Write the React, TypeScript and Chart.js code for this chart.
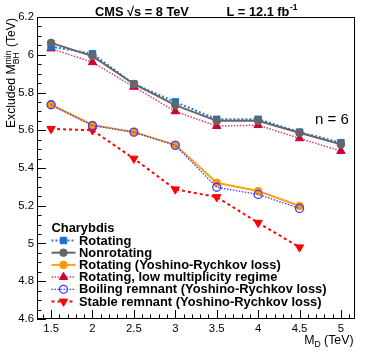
import React, { useEffect, useRef } from "react";
import { Chart, registerables } from "chart.js";
import { drawPoint } from "chart.js/helpers";

Chart.register(...registerables);

// ---- data ----
const MD = [1.5, 2, 2.5, 3, 3.5, 4, 4.5, 5];
const ROTATING = [6.043, 6.005, 5.845, 5.75, 5.658, 5.658, 5.59, 5.534];
const NONROTATING = [6.063, 5.993, 5.845, 5.733, 5.65, 5.65, 5.587, 5.525];
const ROTATING_YR = [5.735, 5.628, 5.59, 5.523, 5.322, 5.278, 5.199];
const LOW_MULT = [6.033, 5.96, 5.83, 5.7, 5.622, 5.627, 5.557, 5.49];
const BOILING_YR = [5.735, 5.625, 5.59, 5.52, 5.298, 5.26, 5.186];
const STABLE_YR = [5.607, 5.6, 5.45, 5.287, 5.246, 5.11, 4.98];

const X_TICKS = [1.5, 2, 2.5, 3, 3.5, 4, 4.5, 5];
const Y_TICKS = [4.6, 4.8, 5, 5.2, 5.4, 5.6, 5.8, 6, 6.2];
const X_MIN = 1.33;
const X_MAX = 5.17;
const Y_MIN = 4.6;
const Y_MAX = 6.2;
const X_MINOR_STEP = 0.1;
const Y_MINOR_STEP = 0.05;

const LEGEND_HEADER = "Charybdis";
const FONT = "'Liberation Sans', Arial, Helvetica, sans-serif";

const pts = (ys: number[]) => ys.map((v, i) => ({ x: MD[i], y: v }));

const decorPlugin = {
  id: "rootDecor",
  afterDraw(chart: any) {
    const { ctx, chartArea, scales } = chart;
    const { left, right, top, bottom } = chartArea;
    const xs = scales.x;
    const ys = scales.y;
    ctx.save();

    // inside ticks
    ctx.strokeStyle = "#000";
    ctx.lineWidth = 1;
    ctx.setLineDash([]);
    ctx.beginPath();
    const nx = Math.round((X_MAX - X_MIN) / X_MINOR_STEP) + 2;
    for (let i = 0; i < nx; i++) {
      const v = Math.ceil(X_MIN / X_MINOR_STEP) * X_MINOR_STEP + i * X_MINOR_STEP;
      if (v > X_MAX) break;
      const isMajor = Math.abs(v / 0.5 - Math.round(v / 0.5)) < 1e-6;
      const px = Math.round(xs.getPixelForValue(v)) + 0.5;
      const len = isMajor ? 9 : 4.5;
      ctx.moveTo(px, bottom);
      ctx.lineTo(px, bottom - len);
    }
    const ny = Math.round((Y_MAX - Y_MIN) / Y_MINOR_STEP);
    for (let i = 0; i <= ny; i++) {
      const v = Y_MIN + i * Y_MINOR_STEP;
      const isMajor = i % 4 === 0;
      const py = Math.round(ys.getPixelForValue(v)) + 0.5;
      const len = isMajor ? 9 : 4.5;
      ctx.moveTo(left, py);
      ctx.lineTo(left + len, py);
    }
    ctx.stroke();

    // frame
    ctx.strokeRect(left + 0.5, top + 0.5, right - left - 1, bottom - top - 1);

    ctx.fillStyle = "#000";
    ctx.textBaseline = "alphabetic";
    ctx.textAlign = "left";

    // title
    ctx.font = `bold 12.8px ${FONT}`;
    ctx.fillText("CMS \u221As = 8 TeV", 95, 15.5);
    ctx.fillText("L = 12.1 fb", 226.5, 15.5);
    const wL = ctx.measureText("L = 12.1 fb").width;
    ctx.font = `bold 8.5px ${FONT}`;
    ctx.fillText("-1", 226.5 + wL + 0.5, 10);

    // n = 6
    ctx.font = `15px ${FONT}`;
    ctx.fillText("n = 6", 315, 124);

    // x title: M_D (TeV), right aligned
    {
      ctx.font = `12.3px ${FONT}`;
      const wM = ctx.measureText("M").width;
      const wT = ctx.measureText(" (TeV)").width;
      ctx.font = `8.6px ${FONT}`;
      const wD = ctx.measureText("D").width;
      const total = wM + wD + wT;
      const x0 = 353.5 - total;
      const base = 344;
      ctx.font = `12.3px ${FONT}`;
      ctx.fillText("M", x0, base);
      ctx.font = `8.6px ${FONT}`;
      ctx.fillText("D", x0 + wM, base + 3);
      ctx.font = `12.3px ${FONT}`;
      ctx.fillText(" (TeV)", x0 + wM + wD, base);
    }

    // y title: Excluded M^min_BH (TeV), rotated, aligned to top
    {
      ctx.save();
      ctx.translate(15, 18);
      ctx.rotate(-Math.PI / 2);
      ctx.font = `12.2px ${FONT}`;
      const w1 = ctx.measureText("Excluded M").width;
      const w3 = ctx.measureText(" (TeV)").width;
      ctx.font = `8.6px ${FONT}`;
      const wSub = ctx.measureText("BH").width;
      const wSup = ctx.measureText("min").width;
      const w2 = Math.max(wSub, wSup);
      const total = w1 + w2 + w3;
      const x0 = -total;
      ctx.font = `12.2px ${FONT}`;
      ctx.fillText("Excluded M", x0, 0);
      ctx.font = `8.6px ${FONT}`;
      ctx.fillText("BH", x0 + w1, 4);
      ctx.fillText("min", x0 + w1, -4.5);
      ctx.font = `12.2px ${FONT}`;
      ctx.fillText(" (TeV)", x0 + w1 + w2, 0);
      ctx.restore();
    }

    // legend
    ctx.font = `bold 12.9px ${FONT}`;
    ctx.textBaseline = "middle";
    ctx.fillText(LEGEND_HEADER, 51.5, 228);
    const rowY0 = 240.5;
    const pitch = 12.2;
    chart.data.datasets.forEach((ds: any, i: number) => {
      const yy = rowY0 + i * pitch;
      ctx.save();
      ctx.strokeStyle = ds.borderColor;
      ctx.lineWidth = ds.borderWidth;
      ctx.setLineDash(ds.borderDash || []);
      ctx.beginPath();
      ctx.moveTo(51.5, yy);
      ctx.lineTo(75.5, yy);
      ctx.stroke();
      ctx.setLineDash([]);
      ctx.fillStyle = ds.pointBackgroundColor;
      ctx.strokeStyle = ds.pointBorderColor;
      ctx.lineWidth = ds.pointBorderWidth;
      drawPoint(
        ctx,
        {
          pointStyle: ds.pointStyle,
          radius: ds.pointRadius,
          rotation: ds.pointRotation || 0,
          borderWidth: ds.pointBorderWidth,
        } as any,
        63.5,
        yy
      );
      ctx.restore();
      ctx.fillStyle = "#000";
      ctx.font = `bold 12.9px ${FONT}`;
      ctx.textBaseline = "middle";
      ctx.fillText(ds.label, 79, yy + 0.5);
    });

    ctx.restore();
  },
};

export default function App() {
  const ref = useRef<HTMLCanvasElement | null>(null);

  useEffect(() => {
    document.body.style.margin = "0";
    const canvas = ref.current;
    if (!canvas) return;
    const chart = new Chart(canvas, {
      type: "line",
      data: {
        datasets: [
          {
            label: "Rotating",
            data: pts(ROTATING),
            borderColor: "#2a78d6",
            borderWidth: 2,
            borderDash: [2, 2],
            pointStyle: "rect",
            pointRadius: 4.6,
            pointBackgroundColor: "#1f6fd1",
            pointBorderColor: "#1f6fd1",
            pointBorderWidth: 1,
            order: 2,
          },
          {
            label: "Nonrotating",
            data: pts(NONROTATING),
            borderColor: "#666666",
            borderWidth: 2,
            pointStyle: "circle",
            pointRadius: 3.8,
            pointBackgroundColor: "#666666",
            pointBorderColor: "#666666",
            pointBorderWidth: 1,
            order: 1,
          },
          {
            label: "Rotating (Yoshino-Rychkov loss)",
            data: pts(ROTATING_YR),
            borderColor: "#ffa11a",
            borderWidth: 2,
            pointStyle: "circle",
            pointRadius: 3.8,
            pointBackgroundColor: "#ff9900",
            pointBorderColor: "#ff9900",
            pointBorderWidth: 1,
            order: 2,
          },
          {
            label: "Rotating, low multiplicity regime",
            data: pts(LOW_MULT),
            borderColor: "#e0406a",
            borderWidth: 1.5,
            borderDash: [1.5, 1.5],
            pointStyle: "triangle",
            pointRadius: 4.8,
            pointBackgroundColor: "#cc0033",
            pointBorderColor: "#cc0033",
            pointBorderWidth: 1,
            order: 3,
          },
          {
            label: "Boiling remnant (Yoshino-Rychkov loss)",
            data: pts(BOILING_YR),
            borderColor: "#3b3bff",
            borderWidth: 1.3,
            borderDash: [1.5, 1.5],
            pointStyle: "circle",
            pointRadius: 4,
            pointBackgroundColor: "rgba(0,0,0,0)",
            pointBorderColor: "#3b3bff",
            pointBorderWidth: 1.3,
            order: 1,
          },
          {
            label: "Stable remnant (Yoshino-Rychkov loss)",
            data: pts(STABLE_YR),
            borderColor: "#ff0000",
            borderWidth: 2,
            borderDash: [3, 3],
            pointStyle: "triangle",
            pointRotation: 180,
            pointRadius: 4.8,
            pointBackgroundColor: "#ff0000",
            pointBorderColor: "#ff0000",
            pointBorderWidth: 1,
            order: 3,
          },
        ] as any,
      },
      options: {
        animation: false,
        responsive: false,
        devicePixelRatio: 1,
        layout: { padding: { top: 17, right: 19, left: 0, bottom: 0 } },
        plugins: {
          legend: { display: false },
          tooltip: { enabled: false },
          title: { display: false },
        },
        elements: { line: { tension: 0, fill: false } },
        scales: {
          x: {
            type: "linear",
            min: X_MIN,
            max: X_MAX,
            afterBuildTicks: (s: any) => {
              s.ticks = X_TICKS.map((v) => ({ value: v }));
            },
            afterFit: (s: any) => {
              s.height = 36;
            },
            grid: { display: false, drawTicks: false },
            border: { display: false },
            ticks: {
              padding: 3,
              color: "#000",
              font: { family: FONT, size: 11.3 },
              maxRotation: 0,
              autoSkip: false,
              callback: (v: any) => String(Number(v)),
            },
          },
          y: {
            type: "linear",
            min: Y_MIN,
            max: Y_MAX,
            afterBuildTicks: (s: any) => {
              s.ticks = Y_TICKS.map((v) => ({ value: v }));
            },
            afterFit: (s: any) => {
              s.width = 37;
            },
            grid: { display: false, drawTicks: false },
            border: { display: false },
            ticks: {
              padding: 3,
              color: "#000",
              font: { family: FONT, size: 11.3 },
              autoSkip: false,
              callback: (v: any) => String(Number(Number(v).toFixed(2))),
            },
          },
        },
      } as any,
      plugins: [decorPlugin],
    });
    return () => chart.destroy();
  }, []);

  return (
    <div style={{ position: "absolute", left: 0, top: 0, width: 374, height: 355, background: "#fff" }}>
      <canvas ref={ref} width={374} height={355} style={{ width: 374, height: 355 }} />
    </div>
  );
}
